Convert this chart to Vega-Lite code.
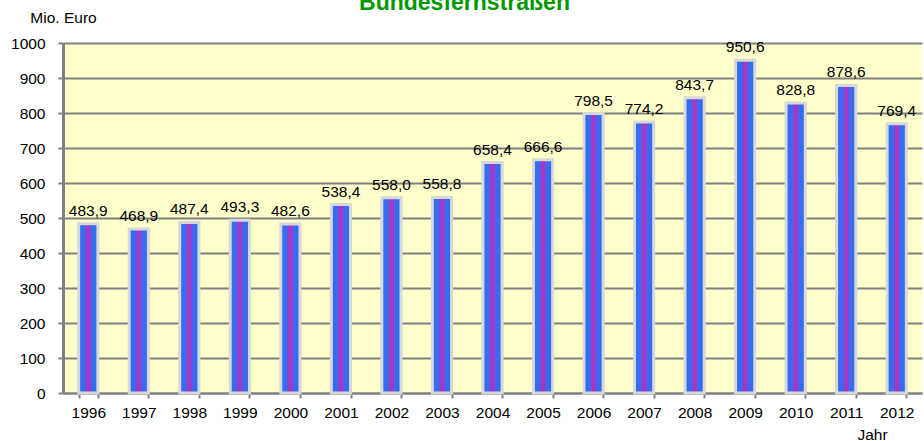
{
  "$schema": "https://vega.github.io/schema/vega-lite/v6.json",
  "width": 859,
  "height": 350,
  "autosize": {"type": "none"},
  "padding": {"left": 63, "top": 43, "right": 2, "bottom": 48},
  "background": "white",
  "title": {
    "text": "Bundesfernstraßen",
    "color": "#009900",
    "fontSize": 23,
    "fontWeight": "bold",
    "font": "Liberation Sans",
    "anchor": "middle",
    "frame": "group",
    "dx": -28,
    "dy": 23,
    "offset": 0,
    "baseline": "alphabetic"
  },
  "config": {
    "locale": {"number": {"decimal": ",", "thousands": ".", "grouping": [3], "currency": ["", " €"]}},
    "view": {"fill": "#FFFFCC", "stroke": null},
    "font": "Liberation Sans"
  },
  "data": {
    "values": [
      {"Jahr": "1996", "Wert": 483.9},
      {"Jahr": "1997", "Wert": 468.9},
      {"Jahr": "1998", "Wert": 487.4},
      {"Jahr": "1999", "Wert": 493.3},
      {"Jahr": "2000", "Wert": 482.6},
      {"Jahr": "2001", "Wert": 538.4},
      {"Jahr": "2002", "Wert": 558.0},
      {"Jahr": "2003", "Wert": 558.8},
      {"Jahr": "2004", "Wert": 658.4},
      {"Jahr": "2005", "Wert": 666.6},
      {"Jahr": "2006", "Wert": 798.5},
      {"Jahr": "2007", "Wert": 774.2},
      {"Jahr": "2008", "Wert": 843.7},
      {"Jahr": "2009", "Wert": 950.6},
      {"Jahr": "2010", "Wert": 828.8},
      {"Jahr": "2011", "Wert": 878.6},
      {"Jahr": "2012", "Wert": 769.4}
    ]
  },
  "encoding": {
    "x": {
      "field": "Jahr",
      "type": "ordinal",
      "scale": {"paddingInner": 0.62, "paddingOuter": 0.31},
      "axis": {
        "title": "Jahr",
        "titleFontSize": 15.5,
        "titleFontWeight": "normal",
        "titleColor": "black",
        "titleX": 809,
        "titleY": 46,
        "titleAlign": "center",
        "titleBaseline": "alphabetic",
        "labelAngle": 0,
        "labelFontSize": 15.5,
        "labelColor": "black",
        "labelPadding": 7,
        "tickBand": "extent",
        "tickSize": 5,
        "tickColor": "#808080",
        "tickWidth": 2,
        "domainColor": "#808080",
        "domainWidth": 2,
        "grid": false
      }
    },
    "y": {
      "field": "Wert",
      "type": "quantitative",
      "scale": {"domain": [0, 1000], "nice": false},
      "axis": {
        "title": "Mio. Euro",
        "titleAngle": 0,
        "titleFontSize": 15.5,
        "titleFontWeight": "normal",
        "titleColor": "black",
        "titleX": 0,
        "titleY": -26,
        "titleAlign": "center",
        "titleBaseline": "middle",
        "values": [0, 100, 200, 300, 400, 500, 600, 700, 800, 900, 1000],
        "format": "d",
        "labelFontSize": 15.5,
        "labelColor": "black",
        "labelPadding": 13,
        "tickSize": 5,
        "tickColor": "#808080",
        "tickWidth": 2,
        "domainColor": "#808080",
        "domainWidth": 3,
        "grid": true,
        "gridColor": "#808080",
        "gridWidth": 2
      }
    }
  },
  "layer": [
    {
      "mark": {
        "type": "bar",
        "stroke": "#d8d8d8",
        "strokeWidth": 3,
        "fill": {
          "gradient": "linear",
          "x1": 0, "y1": 0, "x2": 1, "y2": 0,
          "stops": [
            {"offset": 0, "color": "#2a70f8"},
            {"offset": 0.3, "color": "#3a6af0"},
            {"offset": 0.5, "color": "#c22ab8"},
            {"offset": 0.7, "color": "#3a6af0"},
            {"offset": 1, "color": "#2a70f8"}
          ]
        }
      }
    },
    {
      "mark": {"type": "text", "baseline": "alphabetic", "dy": -8, "fontSize": 15.5, "color": "black"},
      "encoding": {
        "text": {"field": "Wert", "type": "quantitative", "format": ".1f"}
      }
    }
  ]
}
